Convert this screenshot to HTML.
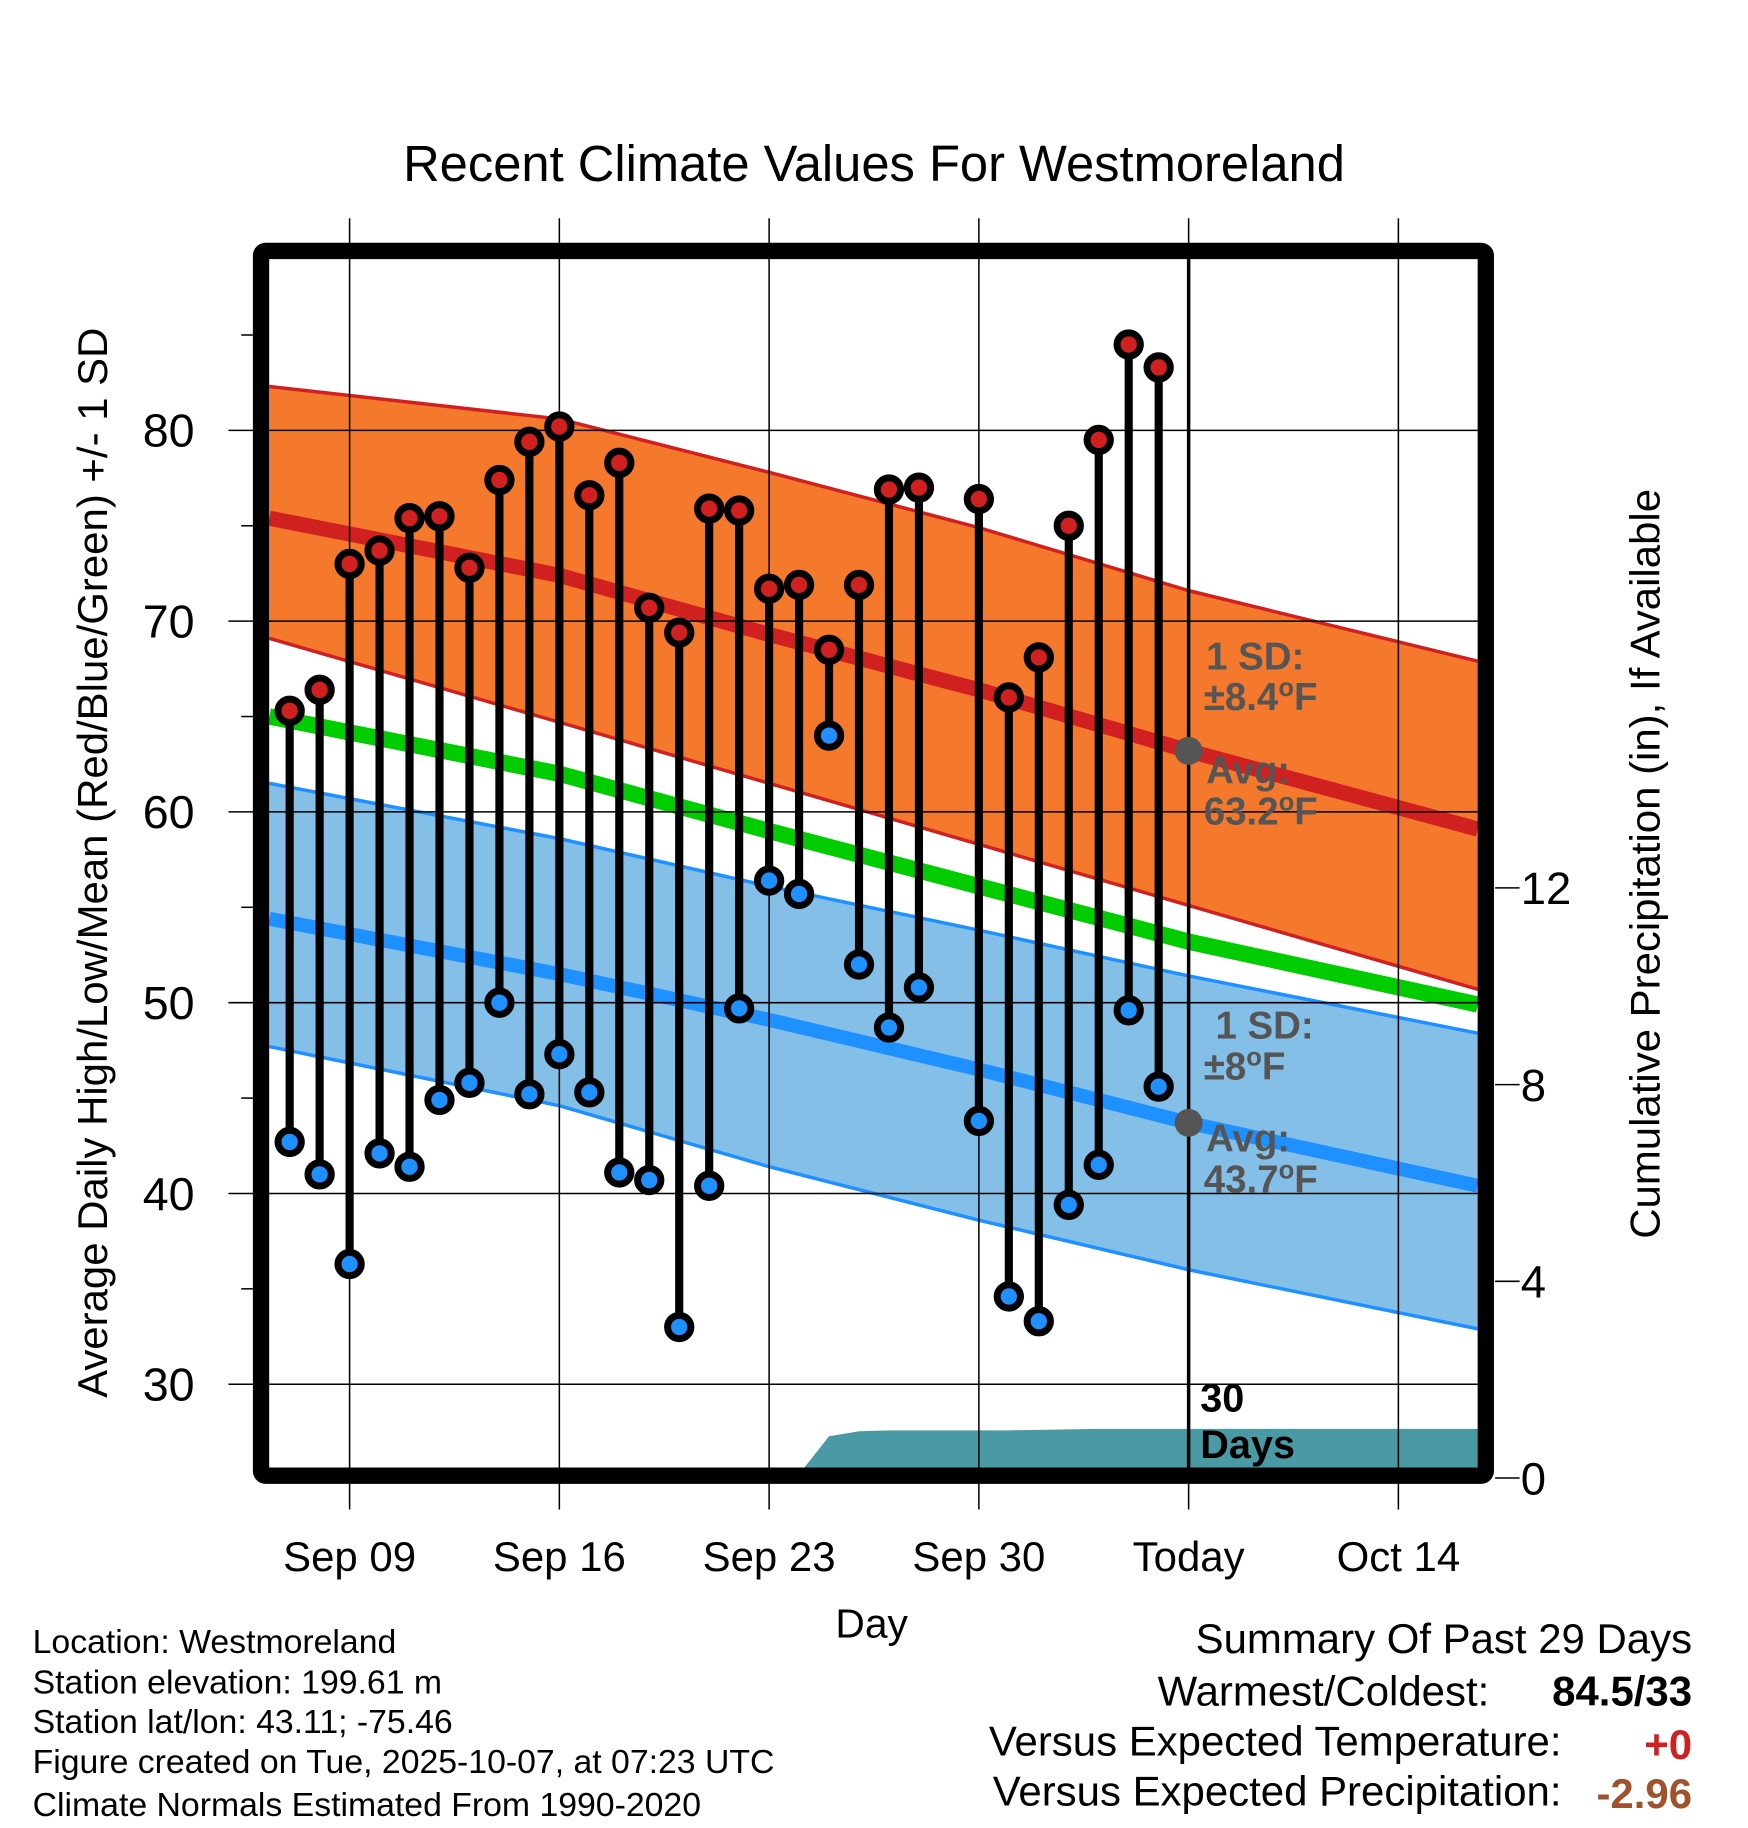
<!DOCTYPE html>
<html><head><meta charset="utf-8"><style>html,body{margin:0;padding:0;background:#fff}svg{display:block;font-family:"Liberation Sans",sans-serif}</style></head>
<body>
<svg id="chart" width="1748" height="1828" viewBox="0 0 1500 1568" xmlns="http://www.w3.org/2000/svg">
<g id="bands"></g>
<g id="grid"></g>
<g id="marks"></g>
<g id="frame"></g>
<g id="texts"></g>
</svg>
<script>
// ---- data ----
const dayLabels = ["Sep 09","Sep 16","Sep 23","Sep 30","Today","Oct 14"];
const dayTicks = [0,7,14,21,28,35];
const obsDays = [-2,-1,0,1,2,3,4,5,6,7,8,9,10,11,12,13,14,15,16,17,18,19,21,22,23,24,25,26,27];
const highs = [65.3,66.4,73.0,73.7,75.4,75.5,72.8,77.4,79.4,80.2,76.6,78.3,70.7,69.4,75.9,75.8,71.7,71.9,68.5,71.9,76.9,77.0,76.4,66.0,68.1,75.0,79.5,84.5,83.3];
const lows = [42.7,41.0,36.3,42.1,41.4,44.9,45.8,50.0,45.2,47.3,45.3,41.1,40.7,33.0,40.4,49.7,56.4,55.7,64.0,52.0,48.7,50.8,43.8,34.6,33.3,39.4,41.5,49.6,45.6];
const normDays = [-2.68,7,14,21,28,37.65];
const hiUpper = [82.3,80.6,77.8,74.9,71.6,67.9];
const hiMean = [75.4,72.4,69.3,66.4,63.2,59.1];
const hiLower = [69.1,64.7,61.5,58.3,55.1,50.7];
const meanLine = [65.0,62.0,59.0,56.1,53.2,49.9];
const loUpper = [61.5,58.6,56.1,53.8,51.4,48.4];
const loMean = [54.4,51.5,49.1,46.5,43.7,40.4];
const loLower = [47.7,44.6,41.4,38.6,36.0,32.9];
const precipDays = [14.9,16,17,18,19,21,22,23,24,25,26,27,28,37.65];
const precipVals = [0,0.85,0.95,0.97,0.97,0.97,0.97,0.98,0.99,1.0,1.0,1.0,1.0,1.0];
const leftTicks = [30,40,50,60,70,80];
const rightTicks = [0,4,8,12];

// ---- axes ----
const X0=231,X1=1268,Y0=222,Y1=1260;
const x = d => 300 + d*25.714;
const y = t => 369 + (80-t)*16.37;
const yp = p => 1268 - p*42.2;
const NS="http://www.w3.org/2000/svg";
function mk(tag,attrs,parent){const e=document.createElementNS(NS,tag);for(const k in attrs)e.setAttribute(k,attrs[k]);parent.appendChild(e);return e;}
const bands=document.getElementById('bands'),grid=document.getElementById('grid'),marks=document.getElementById('marks'),frame=document.getElementById('frame'),texts=document.getElementById('texts');
function poly(up,lo){let p=normDays.map((d,i)=>x(d)+','+y(up[i]));for(let i=normDays.length-1;i>=0;i--)p.push(x(normDays[i])+','+y(lo[i]));return p.join(' ');}
function line(v){return normDays.map((d,i)=>x(d)+','+y(v[i])).join(' ');}
let e;
e=mk('polygon',{points:poly(hiUpper,hiLower),fill:'#f5792d'},bands);


e=mk('polygon',{points:poly(loUpper,loLower),fill:'#84bfe7'},bands);


[[hiUpper,'#d02020',3],[hiLower,'#d02020',3],[hiMean,'#d02020',13],[meanLine,'#00cc00',14],[loUpper,'#1e90ff',3],[loLower,'#1e90ff',3],[loMean,'#1e90ff',12]].forEach((a,i)=>{
 e=mk('polyline',{points:line(a[0]),fill:'none',stroke:a[1],'stroke-width':a[2]},bands);
 
 
});
// precip
let pp=[x(precipDays[0])+','+Y1];precipDays.forEach((d,i)=>pp.push(x(d)+','+yp(precipVals[i])));pp.push(x(precipDays[precipDays.length-1])+','+Y1);
e=mk('polygon',{points:pp.join(' '),fill:'#4a9aa5'},bands);


// grid
dayTicks.forEach((d,i)=>{
 mk('line',{x1:x(d),x2:x(d),y1:187,y2:1295,stroke:'#000','stroke-width':1.3},grid);
 e=mk('text',{x:x(d),y:1348,'font-size':36,'text-anchor':'middle'},texts);e.textContent=dayLabels[i];
 
 
});
leftTicks.forEach(t=>{
 mk('line',{x1:196,x2:X1,y1:y(t),y2:y(t),stroke:'#000','stroke-width':1.3},grid);
 e=mk('text',{x:167,y:y(t)+14,'font-size':40,'text-anchor':'end'},texts);e.textContent=t;
 
 
});
[35,45,55,65,75,85].forEach(t=>mk('line',{x1:207,x2:217,y1:y(t),y2:y(t),stroke:'#000','stroke-width':1.3},grid));
rightTicks.forEach(p=>{
 mk('line',{x1:1283,x2:1304,y1:yp(p),y2:yp(p),stroke:'#000','stroke-width':1.3},grid);
 e=mk('text',{x:1305,y:yp(p)+14,'font-size':39},texts);e.textContent=p;
 
 
});
// today line
mk('line',{x1:x(28),x2:x(28),y1:Y0,y2:Y1,stroke:'#000','stroke-width':3},marks);
// stems
obsDays.forEach((d,i)=>{
 e=mk('line',{x1:x(d),x2:x(d),y1:y(highs[i]),y2:y(lows[i]),stroke:'#000','stroke-width':7},marks);
 
 
});
obsDays.forEach((d,i)=>{
 e=mk('circle',{cx:x(d),cy:y(highs[i]),r:10,fill:'#d02020',stroke:'#000','stroke-width':6},marks);
 
 
 e=mk('circle',{cx:x(d),cy:y(lows[i]),r:10,fill:'#1e90ff',stroke:'#000','stroke-width':6},marks);
 
 
});
mk('circle',{cx:x(28),cy:y(63.2),r:12,fill:'#555'},marks);
mk('circle',{cx:x(28),cy:y(43.7),r:12,fill:'#555'},marks);
// frame
mk('rect',{x:224,y:215,width:1051,height:1051,fill:'none',stroke:'#000','stroke-width':14,rx:4},frame);
</script>
<script>
(function(){
const t=document.getElementById('texts');
const NS="http://www.w3.org/2000/svg";
const items=[
 ['title',750,155,43.5,'middle','normal','#000','Recent Climate Values For Westmoreland'],
 ['x-axis-title',748,1405,35,'middle','normal','#000','Day'],
 ['high-sd-label',1035,574,33,'start','bold','#555','1 SD:'],
 ['high-sd-value',1033,609,33,'start','bold','#555','±8.4|F'],
 ['high-avg-label',1035,672,33,'start','bold','#555','Avg:'],
 ['high-avg-value',1033,707,33,'start','bold','#555','63.2|F'],
 ['low-sd-label',1043,891,33,'start','bold','#555','1 SD:'],
 ['low-sd-value',1033,926,33,'start','bold','#555','±8|F'],
 ['low-avg-label',1035,988,33,'start','bold','#555','Avg:'],
 ['low-avg-value',1033,1023,33,'start','bold','#555','43.7|F'],
 ['days-number',1030,1211,34,'start','bold','#000','30'],
 ['days-label',1030,1251,34,'start','bold','#000','Days'],
 ['location',28,1418,29,'start','normal','#000','Location: Westmoreland'],
 ['elevation',28,1453,29,'start','normal','#000','Station elevation: 199.61 m'],
 ['latlon',28,1487,29,'start','normal','#000','Station lat/lon: 43.11; -75.46'],
 ['created',28,1521,29,'start','normal','#000','Figure created on Tue, 2025-10-07, at 07:23 UTC'],
 ['normals-note',28,1558,29,'start','normal','#000','Climate Normals Estimated From 1990-2020'],
 ['summary-title',1452,1418,36,'end','normal','#000','Summary Of Past 29 Days'],
 ['warmest-label',1278,1463,36,'end','normal','#000','Warmest/Coldest:'],
 ['warmest-value',1452,1463,36,'end','bold','#000','84.5/33'],
 ['temp-label',1340,1506,36,'end','normal','#000','Versus Expected Temperature:'],
 ['temp-value',1452,1509,36,'end','bold','#d02020','+0'],
 ['precip-label',1340,1549,36,'end','normal','#000','Versus Expected Precipitation:'],
 ['precip-value',1452,1551,36,'end','bold','#a0522d','-2.96']
];
items.forEach(a=>{const e=document.createElementNS(NS,'text');e.setAttribute('x',a[1]);e.setAttribute('y',a[2]);e.setAttribute('font-size',a[3]);e.setAttribute('text-anchor',a[4]);e.setAttribute('font-weight',a[5]);e.setAttribute('fill',a[6]);
const parts=a[7].split('|');
if(parts.length>1){e.appendChild(document.createTextNode(parts[0]));const s=document.createElementNS(NS,'tspan');s.setAttribute('dy','-12');s.setAttribute('font-size','22');s.textContent='o';e.appendChild(s);const s2=document.createElementNS(NS,'tspan');s2.setAttribute('dy','12');s2.textContent=parts[1];e.appendChild(s2);}
else e.textContent=a[7];


t.appendChild(e);});
let e=document.createElementNS(NS,'text');e.setAttribute('transform','translate(92,740) rotate(-90)');e.setAttribute('font-size',36);e.setAttribute('text-anchor','middle');e.textContent='Average Daily High/Low/Mean (Red/Blue/Green) +/- 1 SD';


t.appendChild(e);
e=document.createElementNS(NS,'text');e.setAttribute('transform','translate(1424,741) rotate(-90)');e.setAttribute('font-size',36);e.setAttribute('text-anchor','middle');e.textContent='Cumulative Precipitation (in), If Available';


t.appendChild(e);
})();
</script>
</body></html>
